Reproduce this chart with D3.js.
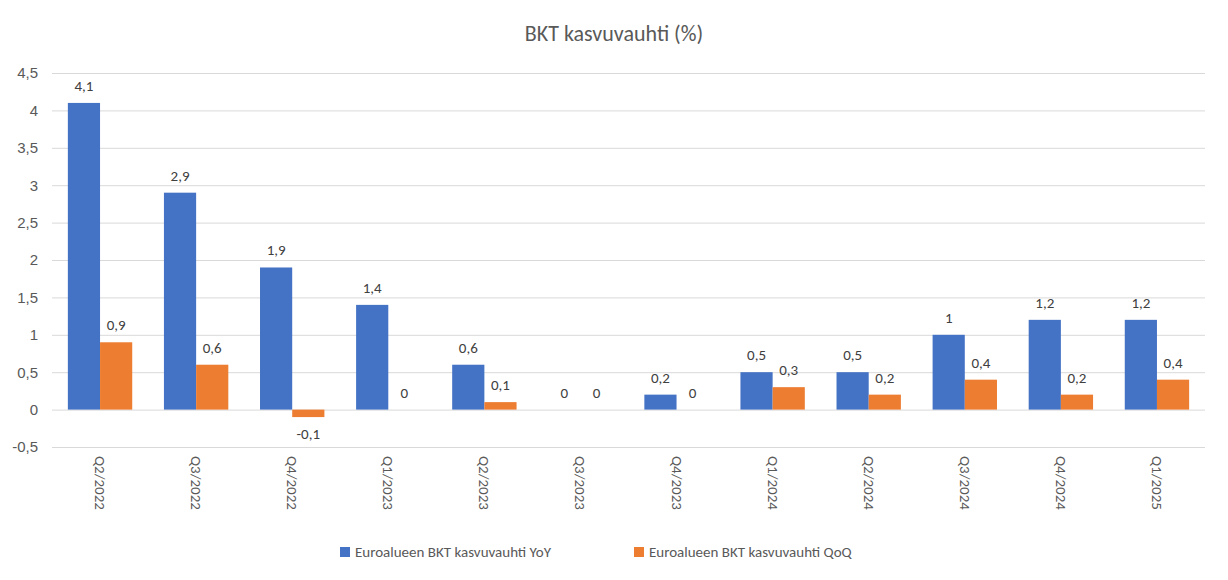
<!DOCTYPE html>
<html><head><meta charset="utf-8">
<script src="https://cdn.jsdelivr.net/npm/d3@7"></script>
<style>body{margin:0;background:#fff;font-family:Calibri,Carlito,"Open Sans",sans-serif;}</style>
</head><body><svg id="c" width="1228" height="580"></svg>
<script>
const categories=["Q2/2022","Q3/2022","Q4/2022","Q1/2023","Q2/2023","Q3/2023","Q4/2023","Q1/2024","Q2/2024","Q3/2024","Q4/2024","Q1/2025"];
const yoy=[4.1,2.9,1.9,1.4,0.6,0,0.2,0.5,0.5,1,1.2,1.2];
const qoq=[0.9,0.6,-0.1,0,0.1,0,0,0.3,0.2,0.4,0.2,0.4];
const seriesNames=["Euroalueen BKT kasvuvauhti YoY","Euroalueen BKT kasvuvauhti QoQ"];
const yTicks=[-0.5,0,0.5,1,1.5,2,2.5,3,3.5,4,4.5];
const colors=["#4472C4","#ED7D31"];
const svg=d3.select("#c");
const fmt=v=>String(v).replace(".",",");
const x=d3.scaleBand().domain(categories).range([52,1205]).paddingInner(0.33).paddingOuter(0.165);
const xs=d3.scaleBand().domain([0,1]).range([0,x.bandwidth()]);
const y=d3.scaleLinear().domain([-0.5,4.5]).range([447,73]);
svg.append("text").attr("x",614).attr("y",41).attr("text-anchor","middle").attr("font-size",22).attr("fill","#595959").text("BKT kasvuvauhti (%)");
const ya=svg.append("g").attr("transform","translate(52,0)").call(d3.axisLeft(y).tickValues(yTicks).tickSize(-1153).tickFormat(fmt));
ya.select(".domain").remove();
ya.selectAll("line").attr("stroke","#d9d9d9");
ya.selectAll("text").attr("x",-14).attr("font-size",15).attr("fill","#595959").attr("font-family","inherit");
[yoy,qoq].forEach((s,si)=>{
  const g=svg.append("g");
  g.selectAll("rect").data(s).join("rect")
   .attr("x",(d,i)=>x(categories[i])+xs(si)).attr("width",xs.bandwidth())
   .attr("y",d=>y(Math.max(d,0))).attr("height",d=>Math.abs(y(d)-y(0)))
   .attr("fill",colors[si]);
  g.selectAll("text").data(s).join("text")
   .attr("x",(d,i)=>x(categories[i])+xs(si)+xs.bandwidth()/2)
   .attr("y",d=>d<0?y(d)+22:y(d)-12)
   .attr("text-anchor","middle").attr("font-size",15).attr("fill","#404040").text(fmt);
});
svg.append("g").selectAll("text").data(categories).join("text")
 .attr("transform",d=>`translate(${x(d)+x.bandwidth()/2-5},456) rotate(90)`)
 .attr("font-size",15).attr("fill","#595959").text(d=>d);
const lg=svg.append("g");
const lx=[340,634];
seriesNames.forEach((n,i)=>{
  lg.append("rect").attr("x",lx[i]).attr("y",547).attr("width",10).attr("height",10).attr("fill",colors[i]);
  lg.append("text").attr("x",lx[i]+15).attr("y",557).attr("font-size",15).attr("fill","#595959").text(n);
});
</script></body></html>
